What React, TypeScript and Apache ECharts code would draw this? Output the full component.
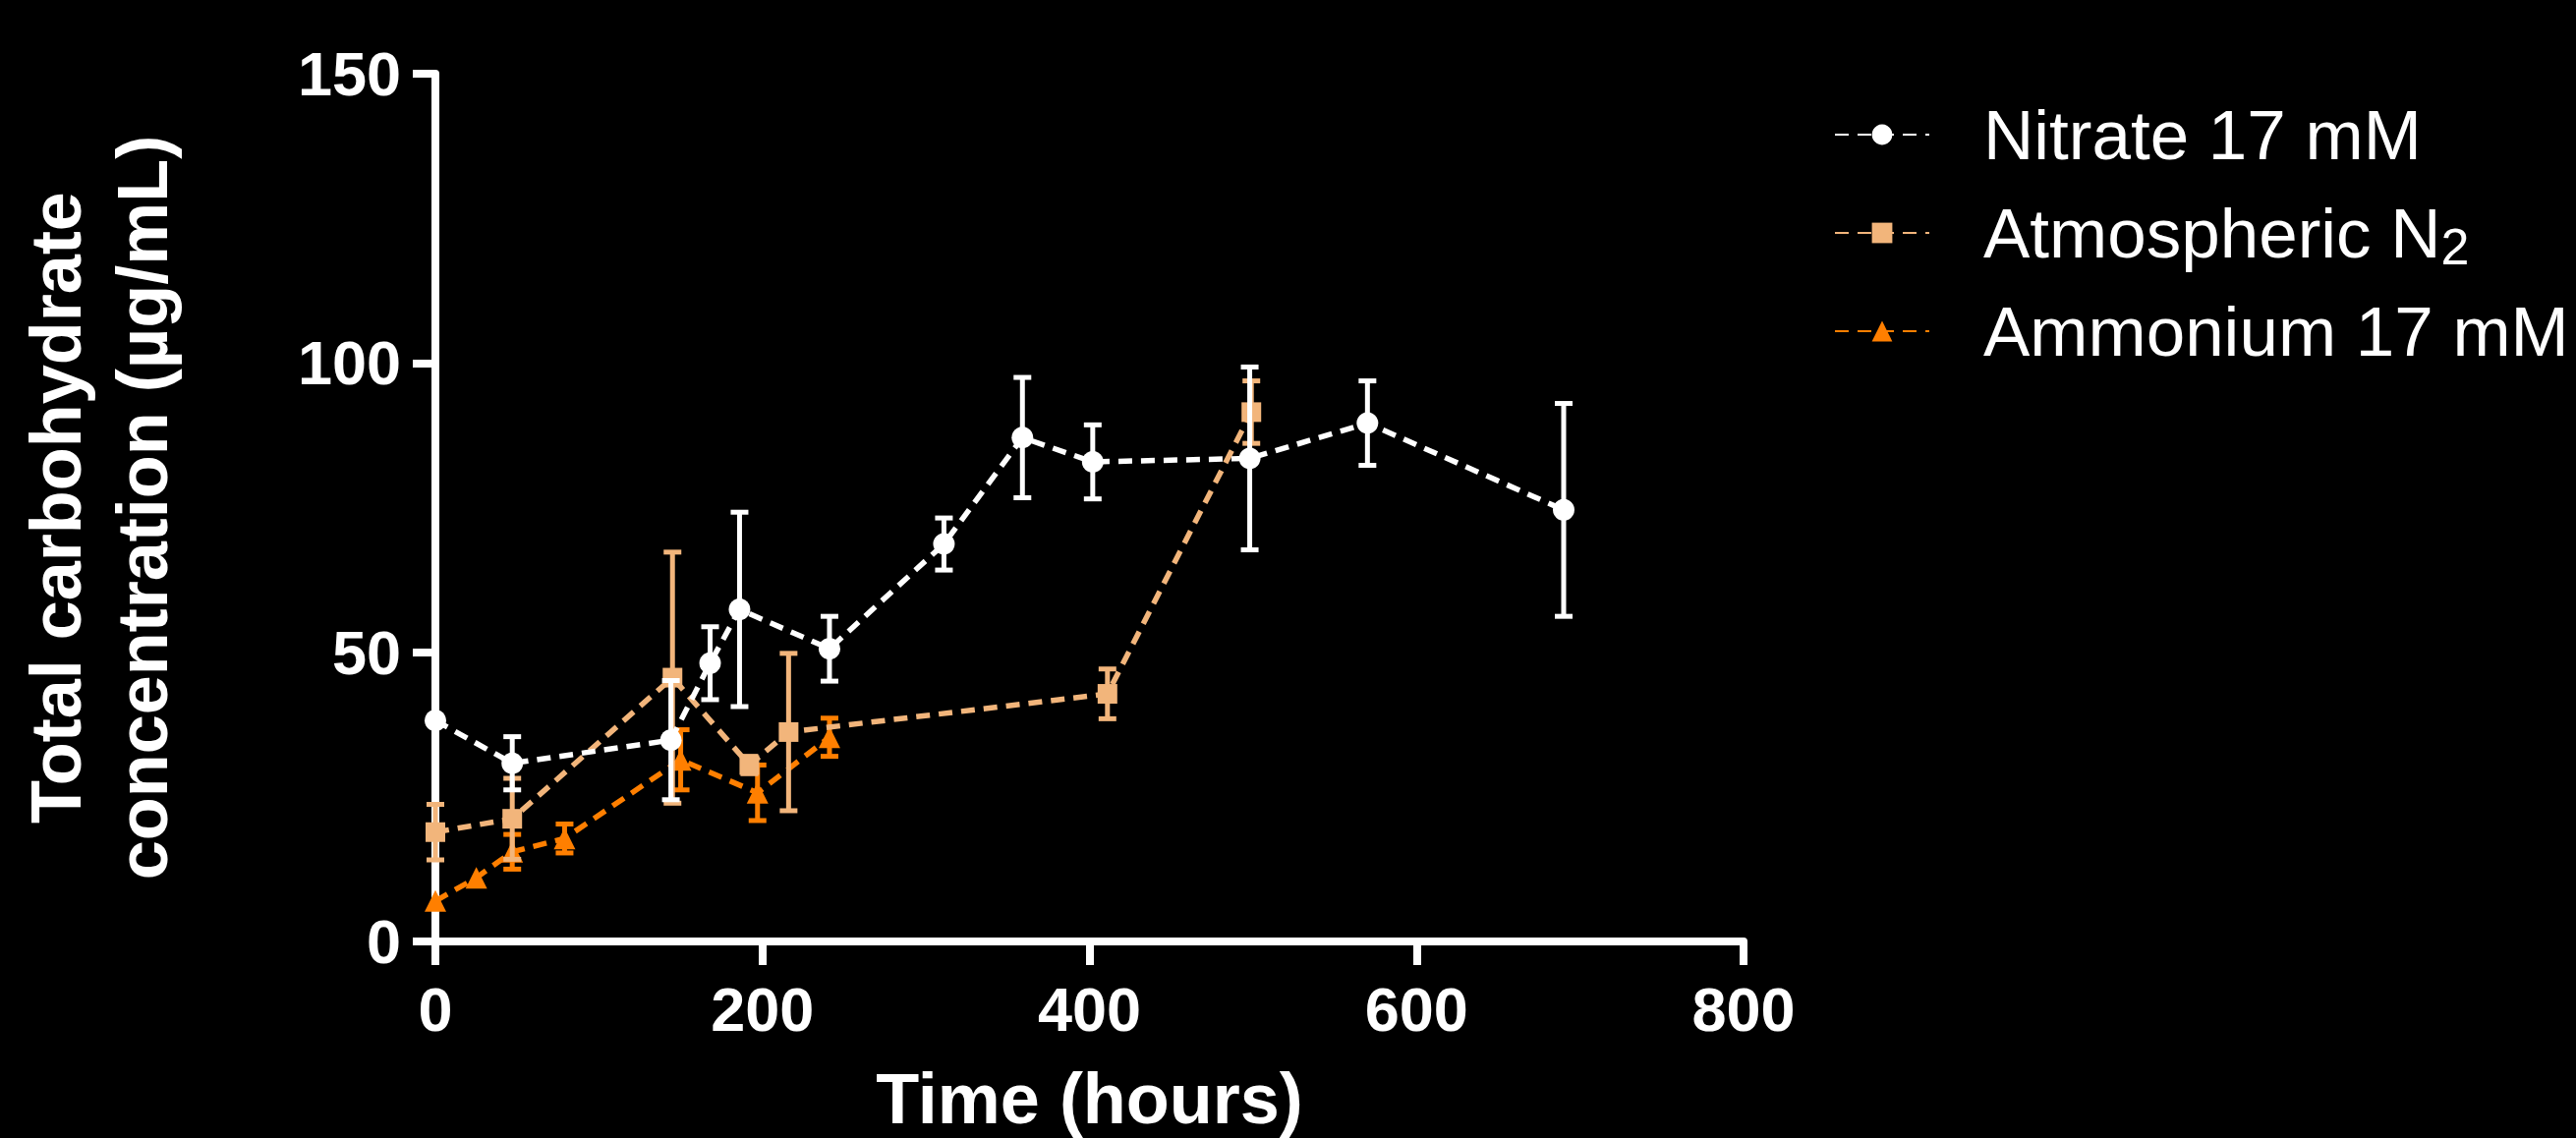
import React, { useEffect, useRef } from "react";
import * as echarts from "echarts";

const FONT = '"Liberation Sans", Arial, Helvetica, sans-serif';

const xTicks = [0, 200, 400, 600, 800];
const yTicks = [0, 50, 100, 150];

const seriesNames = ["Nitrate 17 mM", "Atmospheric N2", "Ammonium 17 mM"];
const seriesColors = ["#FFFFFF", "#F2B57B", "#FF7F00"];
const seriesSymbols = ["circle", "rect", "triangle"];

const nitrateTime = [0, 47, 144, 168, 186, 241, 311, 359, 402, 498, 570, 690];
const nitrateMean = [38.2, 30.8, 34.8, 48.1, 57.4, 50.6, 68.7, 87.1, 82.9, 83.5, 89.6, 74.6];
const nitrateErr = [0, 4.6, 10.3, 6.3, 16.8, 5.6, 4.5, 10.4, 6.4, 15.8, 7.3, 18.4];

const atmTime = [0, 47, 145, 192, 216, 411, 499];
const atmMean = [18.9, 21.2, 45.6, 30.5, 36.2, 42.8, 91.5];
const atmErr = [4.8, 7.0, 21.7, 1.5, 13.6, 4.3, 5.4];

const ammTime = [0, 25, 47, 79, 150, 197, 241];
const ammMean = [7.0, 11.0, 15.5, 17.8, 31.4, 25.7, 35.3];
const ammErr = [0, 0, 3.0, 2.5, 5.2, 4.8, 3.3];

const groups = [
  { time: nitrateTime, mean: nitrateMean, err: nitrateErr },
  { time: atmTime, mean: atmMean, err: atmErr },
  { time: ammTime, mean: ammMean, err: ammErr },
];

function errorSeries(idx: number) {
  const g = groups[idx];
  const color = seriesColors[idx];
  const data = g.time
    .map((t, i) => [t, g.mean[i] - g.err[i], g.mean[i] + g.err[i], g.err[i]])
    .filter((d) => d[3] > 0);
  return {
    type: "custom",
    name: seriesNames[idx] + " error",
    data,
    encode: { x: 0, y: [1, 2] },
    silent: true,
    z: 2 + (2 - idx) * 2,
    renderItem: (params: any, api: any) => {
      const x = api.value(0);
      const lo = api.coord([x, api.value(1)]);
      const hi = api.coord([x, api.value(2)]);
      const hw = 9;
      const style = { stroke: color, lineWidth: 5 };
      return {
        type: "group",
        children: [
          { type: "line", shape: { x1: lo[0], y1: lo[1], x2: hi[0], y2: hi[1] }, style },
          { type: "line", shape: { x1: lo[0] - hw, y1: lo[1], x2: lo[0] + hw, y2: lo[1] }, style },
          { type: "line", shape: { x1: hi[0] - hw, y1: hi[1], x2: hi[0] + hw, y2: hi[1] }, style },
        ],
      };
    },
  };
}

function lineSeries(idx: number) {
  const g = groups[idx];
  const color = seriesColors[idx];
  return {
    type: "line",
    name: seriesNames[idx],
    data: g.time.map((t, i) => [t, g.mean[i]]),
    symbol: seriesSymbols[idx],
    symbolSize: idx === 1 ? 20 : 22,
    showAllSymbol: true,
    color,
    itemStyle: { color, opacity: 1 },
    lineStyle: { color, width: 5.5, type: [14, 9] },
    z: 3 + (2 - idx) * 2,
    emphasis: { disabled: true },
  };
}

export default function App() {
  const ref = useRef<HTMLDivElement>(null);

  useEffect(() => {
    if (!ref.current) return;
    const chart = echarts.init(ref.current, null, { renderer: "svg" });
    const axisLineStyle = { color: "#FFFFFF", width: 8 };
    const option: any = {
      animation: false,
      backgroundColor: "#000000",
      grid: { left: 443, top: 75, width: 1331, height: 883, outerBoundsMode: "none", containLabel: false },
      xAxis: {
        type: "value",
        min: xTicks[0],
        max: xTicks[xTicks.length - 1],
        interval: xTicks[1] - xTicks[0],
        axisLine: { show: true, lineStyle: axisLineStyle },
        axisTick: { show: true, length: 24, lineStyle: axisLineStyle },
        splitLine: { show: false },
        axisLabel: {
          color: "#FFFFFF",
          fontSize: 63,
          fontWeight: "bold",
          fontFamily: FONT,
          lineHeight: 70,
          margin: 34,
        },
        name: "Time (hours)",
        nameLocation: "middle",
        nameGap: 124,
        nameTextStyle: {
          color: "#FFFFFF",
          fontSize: 72,
          fontWeight: "bold",
          fontFamily: FONT,
          lineHeight: 72,
        },
      },
      yAxis: {
        type: "value",
        min: yTicks[0],
        max: yTicks[yTicks.length - 1],
        interval: yTicks[1] - yTicks[0],
        axisLine: { show: true, lineStyle: axisLineStyle },
        axisTick: { show: true, length: 23, lineStyle: axisLineStyle },
        splitLine: { show: false },
        axisLabel: {
          color: "#FFFFFF",
          fontSize: 63,
          fontWeight: "bold",
          fontFamily: FONT,
          margin: 35,
        },
        name: "Total carbohydrate\nconcentration (µg/mL)",
        nameLocation: "middle",
        nameRotate: 90,
        nameGap: 254,
        nameTextStyle: {
          color: "#FFFFFF",
          fontSize: 72,
          fontWeight: "bold",
          fontFamily: FONT,
          lineHeight: 88,
          align: "center",
        },
      },
      legend: {
        data: seriesNames,
        orient: "vertical",
        left: 1866,
        top: 97,
        padding: 0,
        itemWidth: 96,
        itemHeight: 26,
        itemGap: 20,
        selectedMode: false,
        formatter: (n: string) => (n === "Atmospheric N2" ? "Atmospheric N{sub|2}" : n),
        textStyle: {
          color: "#FFFFFF",
          fontSize: 71,
          fontFamily: FONT,
          lineHeight: 80,
          padding: [0, 0, 0, 50],
          rich: {
            sub: {
              color: "#FFFFFF",
              fontSize: 52,
              fontFamily: FONT,
              lineHeight: 34,
              verticalAlign: "bottom",
            },
          },
        },
      },
      series: [
        errorSeries(2),
        lineSeries(2),
        errorSeries(1),
        lineSeries(1),
        errorSeries(0),
        lineSeries(0),
      ],
    };
    chart.setOption(option);
    return () => chart.dispose();
  }, []);

  return (
    <div
      ref={ref}
      style={{ position: "absolute", left: 0, top: 0, width: 2621, height: 1158, background: "#000" }}
    />
  );
}
